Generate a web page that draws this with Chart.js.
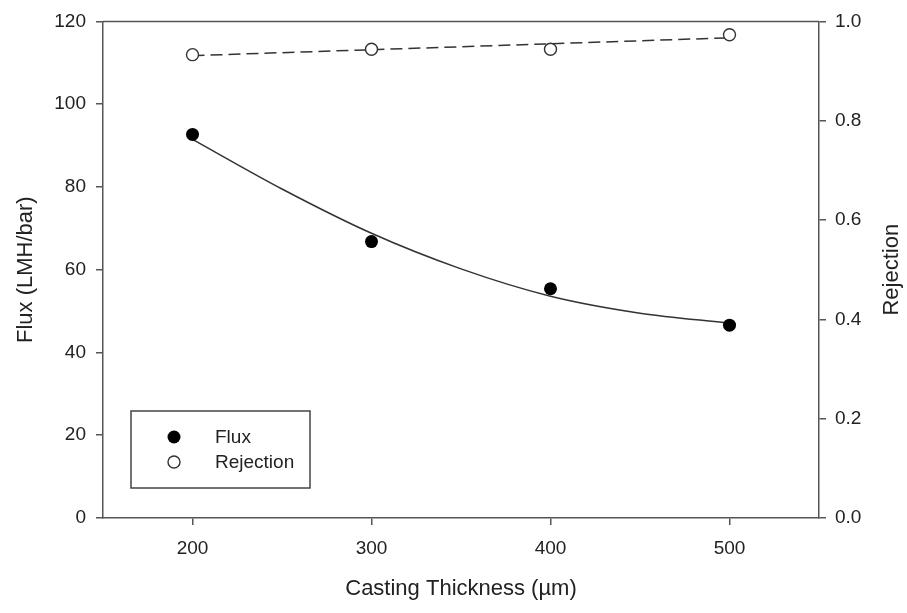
<!DOCTYPE html>
<html>
<head>
<meta charset="utf-8">
<script src="https://cdn.jsdelivr.net/npm/chart.js@4/dist/chart.umd.min.js"></script>
<style>
  html, body { margin: 0; padding: 0; background: #fff; }
  #wrap { width: 907px; height: 613px; position: relative; }
</style>
</head>
<body>
<div id="wrap"><canvas id="myChart"></canvas></div>
<script>
    "use strict";

    // measured points
    var thickness = [200, 300, 400, 500];
    var flux = [92.7, 66.8, 55.4, 46.6];
    var rejection = [0.933, 0.944, 0.944, 0.973];

    // fitted curves
    var fitThickness = [200, 250, 300, 350, 400, 450, 500];
    var fitFlux = [91.5, 79.5, 68.8, 60.2, 53.6, 49.5, 47.1];
    var rejFitThickness = [200, 500];
    var rejFit = [0.931, 0.967];

    var xTicks = [200, 300, 400, 500];

    var FONT = 'Arial, "Liberation Sans", sans-serif';
    var AXIS = '#555';
    var INK = '#222';

    function pairs(xs, ys) {
        return xs.map(function (x, i) {
            return { x: x, y: ys[i] };
        });
    }

    /* box, legend and right title */
    var framePlugin = {
        id: 'frame',
        afterDraw: function (chart) {
            var ctx = chart.ctx;
            var a = chart.chartArea;
            ctx.save();
            ctx.strokeStyle = AXIS;
            ctx.lineWidth = 1.5;
            ctx.beginPath();
            ctx.moveTo(a.left, a.top);
            ctx.lineTo(a.right, a.top);
            ctx.stroke();

            // legend box
            ctx.strokeStyle = '#444';
            ctx.lineWidth = 1.5;
            ctx.strokeRect(131, 411, 179, 77);

            ctx.fillStyle = '#000';
            ctx.beginPath();
            ctx.arc(174, 437, 6.5, 0, Math.PI * 2);
            ctx.fill();

            ctx.strokeStyle = '#333';
            ctx.fillStyle = '#fff';
            ctx.lineWidth = 1.4;
            ctx.beginPath();
            ctx.arc(174, 462, 6, 0, Math.PI * 2);
            ctx.fill();
            ctx.stroke();

            ctx.fillStyle = INK;
            ctx.font = '19px ' + FONT;
            ctx.textBaseline = 'middle';
            ctx.textAlign = 'left';
            ctx.fillText('Flux', 215, 438);
            ctx.fillText('Rejection', 215, 463);

            // right axis title, reads bottom to top like the left one
            ctx.translate(892, (a.top + a.bottom) / 2);
            ctx.rotate(-Math.PI / 2);
            ctx.textAlign = 'center';
            ctx.font = '22px ' + FONT;
            ctx.fillText('Rejection', 0, 0);
            ctx.restore();
        }
    };

    var ctx = document.getElementById('myChart').getContext('2d');
    var chart = new Chart(ctx, {
        type: 'scatter',
        data: {
            datasets: [{
                label: 'Flux',
                data: pairs(thickness, flux),
                yAxisID: 'y',
                showLine: false,
                pointRadius: 6.5,
                pointBackgroundColor: '#000',
                pointBorderColor: '#000',
                pointBorderWidth: 0
            }, {
                label: 'Rejection',
                data: pairs(thickness, rejection),
                yAxisID: 'y1',
                showLine: false,
                pointRadius: 6,
                pointBackgroundColor: '#fff',
                pointBorderColor: '#333',
                pointBorderWidth: 1.4
            }, {
                label: 'Rejection fit',
                data: pairs(rejFitThickness, rejFit),
                yAxisID: 'y1',
                showLine: true,
                borderColor: '#333',
                borderWidth: 1.5,
                borderDash: [12, 6],
                pointRadius: 0
            }, {
                label: 'Flux fit',
                data: pairs(fitThickness, fitFlux),
                yAxisID: 'y',
                showLine: true,
                cubicInterpolationMode: 'monotone',
                borderColor: '#333',
                borderWidth: 1.5,
                pointRadius: 0
            }]
        },
        options: {
            responsive: true,
            maintainAspectRatio: false,
            animation: false,
            layout: { padding: { top: 18, left: 0, right: 0, bottom: 0 } },
            scales: {
                x: {
                    type: 'linear',
                    min: 150,
                    max: 550,
                    afterBuildTicks: function (scale) {
                        scale.ticks = xTicks.map(function (v) { return { value: v }; });
                    },
                    afterFit: function (scale) { scale.height = 95; },
                    border: { display: true, color: AXIS, width: 1.5 },
                    grid: { drawOnChartArea: false, drawTicks: true, tickLength: 7, color: AXIS, lineWidth: 1.5 },
                    ticks: { color: INK, padding: 12, font: { family: FONT, size: 19 } },
                    title: {
                        display: true,
                        text: 'Casting Thickness (µm)',
                        color: INK,
                        padding: 11,
                        font: { family: FONT, size: 22 }
                    }
                },
                y: {
                    position: 'left',
                    min: 0,
                    max: 120,
                    afterFit: function (scale) { scale.width = 103; },
                    border: { display: true, color: AXIS, width: 1.5 },
                    grid: { drawOnChartArea: false, drawTicks: true, tickLength: 7, color: AXIS, lineWidth: 1.5 },
                    ticks: { stepSize: 20, color: INK, padding: 10, font: { family: FONT, size: 19 } },
                    title: {
                        display: true,
                        text: 'Flux (LMH/bar)',
                        color: INK,
                        padding: 13,
                        font: { family: FONT, size: 22 }
                    }
                },
                y1: {
                    position: 'right',
                    min: 0,
                    max: 1,
                    afterFit: function (scale) { scale.width = 88; },
                    border: { display: true, color: AXIS, width: 1.5 },
                    grid: { drawOnChartArea: false, drawTicks: true, tickLength: 7, color: AXIS, lineWidth: 1.5 },
                    ticks: {
                        stepSize: 0.2,
                        color: INK,
                        padding: 9,
                        font: { family: FONT, size: 19 },
                        callback: function (v) { return v.toFixed(1); }
                    }
                }
            },
            plugins: {
                legend: { display: false },
                tooltip: { enabled: false }
            }
        },
        plugins: [framePlugin]
    });
</script>
</body>
</html>
